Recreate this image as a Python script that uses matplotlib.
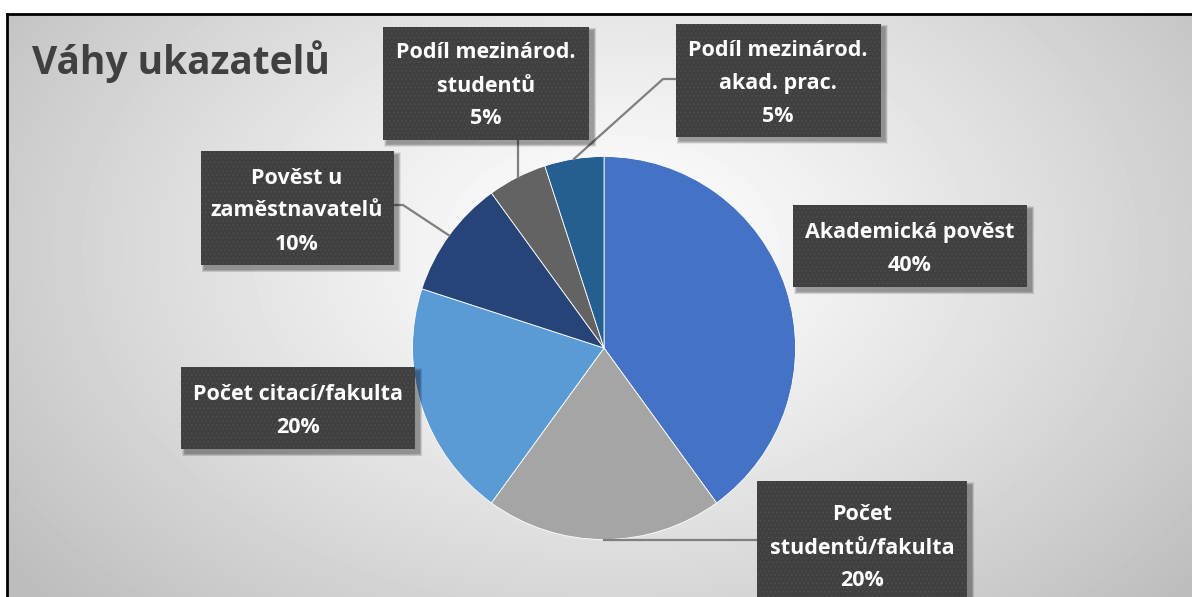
import numpy as np
import matplotlib
matplotlib.use('Agg')
from matplotlib import pyplot as plt
from matplotlib.patches import FancyBboxPatch, Rectangle

# data
labels = ['Akademická pověst', 'Počet\nstudentů/fakulta', 'Počet citací/fakulta',
          'Pověst u\nzaměstnavatelů', 'Podíl mezinárod.\nstudentů', 'Podíl mezinárod.\nakad. prac.']
weights = [40, 20, 20, 10, 5, 5]
colors = ['#4472C4', '#A5A5A5', '#5B9BD5', '#264478', '#636363', '#255E91']
title = 'Váhy ukazatelů'

W, H = 1192, 597
plt.rcParams['font.family'] = ['Open Sans', 'DejaVu Sans']
plt.rcParams['hatch.linewidth'] = 0.7

fig = plt.figure(figsize=(W / 100, H / 100), dpi=100)
ax = fig.add_axes([0, 0, 1, 1])

# background: white outside frame, radial grey gradient inside
yy, xx = np.mgrid[0:H, 0:W]
d = np.sqrt(((xx - 610) / 760.0) ** 2 + ((yy - 250) / 520.0) ** 2)
bg = 1.0 - 0.26 * np.clip(d, 0, 1) ** 1.2
bg[:14, :] = 1.0
bg[:, :7] = 1.0
ax.imshow(bg, cmap='gray', vmin=0, vmax=1, extent=(0, W, 0, H), zorder=0, interpolation='bilinear')
ax.plot([7, W], [H - 14, H - 14], color='black', lw=2, zorder=1)
ax.plot([7, 7], [0, H - 14], color='black', lw=2, zorder=1)

# pie (pixel coords, y up)
cx, cy, r = 604, H - 348, 191.5
ax.pie(weights, colors=colors, startangle=90, counterclock=False,
       center=(cx, cy), radius=r,
       wedgeprops=dict(edgecolor='white', linewidth=0.6))
ax.set_xlim(0, W)
ax.set_ylim(0, H)
ax.set_aspect('equal')
ax.axis('off')

# mid angle of each wedge -> anchor on rim
cum = np.cumsum([0] + weights)
mids = 90 - 360 * (cum[:-1] + cum[1:]) / 2 / sum(weights)

# label boxes: (center x, center y, width, height) in image pixels
boxes = [(910, 246, 234, 82), (862, 545, 210, 128), (298, 408, 234, 82),
         (297, 208, 193, 114), (486, 83, 206, 113), (778, 80, 205, 113)]
# leader elbows (image pixels) or None
elbows = [None, [(758, 538)], None, [(393, 205), (403, 205)],
          [(518, 139)], [(676, 79), (663, 79)]]

for lab, w, m, (bx, by, bw, bh), el in zip(labels, weights, mids, boxes, elbows):
    if el is not None:
        ax_ = cx + r * np.cos(np.radians(m))
        ay_ = cy + r * np.sin(np.radians(m))
        pts = [(x, H - y) for x, y in el]
        if len(pts) == 1 and el[0][1] == 538:
            pts = [(pts[0][0], ay_)]
        if len(pts) == 1 and el[0][1] == 139:
            ax_ = pts[0][0]
        xs = [p[0] for p in pts] + [ax_]
        ys = [p[1] for p in pts] + [ay_]
        ax.plot(xs, ys, color='#7F7F7F', lw=1.6, zorder=2)
    x0, y0 = bx - bw / 2, H - by - bh / 2
    # soft drop shadow
    for k in range(6):
        g = 6 - k
        ax.add_patch(Rectangle((x0 + 4 - g / 2, y0 - 4 - g / 2), bw + g, bh + g,
                               facecolor='black', edgecolor='none', alpha=0.07, zorder=3))
    box = FancyBboxPatch((x0, y0), bw, bh,
                         boxstyle='square,pad=0', facecolor='#404040',
                         edgecolor='#4d4d4d', linewidth=0, hatch='....', zorder=4)
    ax.add_patch(box)
    ax.text(bx, H - by - 3, f'{lab}\n{w}%', ha='center', va='center', color='white',
            fontsize=15.5, fontweight='bold', linespacing=1.75, zorder=5)

ax.text(32, H - 62, title, ha='left', va='center', color='#404040',
        fontsize=28, fontweight='bold', zorder=5)

fig.savefig('out.png', dpi=100)
